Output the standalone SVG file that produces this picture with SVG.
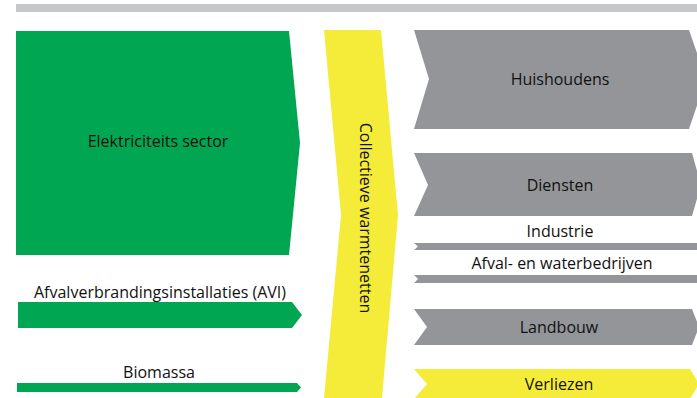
<svg xmlns="http://www.w3.org/2000/svg" width="697" height="398" viewBox="0 0 697 398">
<style>
.g{fill:#00A651}
.y{fill:#F5EC3A}
.gr{fill:#939598}
text{font-family:"Open Sans","Noto Sans","Liberation Sans",sans-serif;font-size:16px;fill:#111;text-anchor:middle}
</style>
<rect x="16" y="4" width="681" height="8" fill="#C7C8CA"/>
<g id="elektriciteit">
<polygon class="g" points="16,31 289,31 300,143 289,255 16,255"/>
<text x="158" y="147">Elektriciteits sector</text>
</g>
<g id="avi">
<polygon class="g" points="18,302 292,302 302,315 292,328 18,328"/>
<text x="160" y="298">Afvalverbrandingsinstallaties (AVI)</text>
</g>
<g id="biomassa">
<polygon class="g" points="17,383 297,383 301,387.5 297,392 17,392"/>
<text x="159" y="378">Biomassa</text>
</g>
<g id="warmtenetten">
<polygon class="y" points="324,30 381,30 398,215 382,398 324,398 341,215"/>
<text transform="translate(360,218) rotate(90)">Collectieve warmtenetten</text>
</g>
<g id="connectors"></g>
<g id="huishoudens">
<polygon class="gr" points="414,30 689,30 706,79 689,129 414,129 429,79"/>
<text x="560" y="85">Huishoudens</text>
</g>
<g id="diensten">
<polygon class="gr" points="414,153 692,153 701,185 692,216 414,216 428,185"/>
<text x="560" y="191">Diensten</text>
</g>
<g id="industrie">
<polygon class="gr" points="414,243 697,243 697,250 414,250 418,246.5"/>
<text x="560" y="237">Industrie</text>
</g>
<g id="afval">
<polygon class="gr" points="414,275 697,275 697,283 414,283 418,279"/>
<text x="562" y="269">Afval- en waterbedrijven</text>
</g>
<g id="landbouw">
<polygon class="gr" points="414,309 692,309 699,327 692,345 414,345 427,327"/>
<text x="559" y="333">Landbouw</text>
</g>
<g id="verliezen">
<polygon class="y" points="414,369 690,369 699,384 690,399 414,399 427,384"/>
<text x="559" y="390">Verliezen</text>
</g>
</svg>
